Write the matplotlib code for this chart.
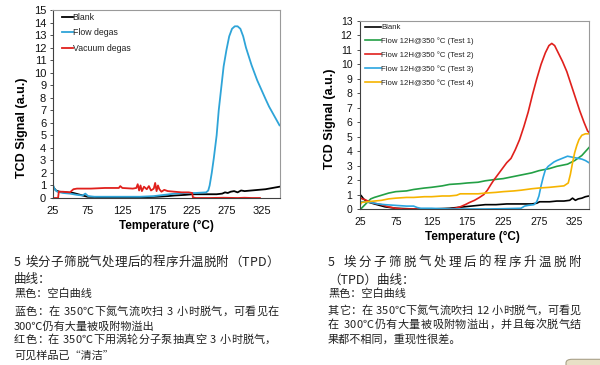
import matplotlib
matplotlib.use('Agg')
import matplotlib.pyplot as plt
from matplotlib.patches import FancyBboxPatch

plt.rcParams['font.family'] = ['Liberation Sans', 'DejaVu Sans']
CJK = ['Noto Sans CJK SC', 'DejaVu Sans']
TXT = '#222222'

# ---- left chart data ----
blank_l_x = [25, 27, 30, 35, 45, 55, 65, 75, 100, 125, 150, 175, 190, 200, 215, 225, 240, 250, 260,
             268, 272, 276, 280, 285, 290, 295, 300, 310, 320, 330, 340, 345, 350]
blank_l_y = [1.0, 0.8, 0.6, 0.5, 0.45, 0.4, 0.25, 0.1, 0.05, 0.05, 0.05, 0.1, 0.15, 0.2, 0.25, 0.3, 0.3,
             0.3, 0.3, 0.35, 0.45, 0.4, 0.5, 0.55, 0.45, 0.6, 0.55, 0.6, 0.65, 0.7, 0.8, 0.85, 0.9]

flow_x = [25, 26, 28, 32, 40, 50, 60, 68, 72, 76, 85, 100, 125, 150, 170, 185, 200, 215, 230, 245,
          248, 250, 253, 256, 260, 263, 267, 270, 274, 278, 282, 286, 290, 294, 298, 302, 306, 310,
          314, 318, 322, 326, 330, 335, 340, 345, 350]
flow_y = [1.4, 1.0, 0.7, 0.5, 0.4, 0.35, 0.25, 0.2, 0.35, 0.15, 0.1, 0.1, 0.1, 0.1, 0.15, 0.25, 0.35,
          0.4, 0.4, 0.45, 0.6, 1.0, 2.0, 3.2, 5.0, 7.0, 9.0, 10.5, 11.8, 12.9, 13.5, 13.7, 13.7, 13.5,
          12.9, 12.0, 11.3, 10.6, 10.0, 9.4, 8.9, 8.4, 7.9, 7.3, 6.8, 6.3, 5.8]

vac_x = [25, 33, 34, 40, 50, 55, 60, 80, 100, 120, 122, 125, 140, 145, 147, 149, 151, 153, 156, 160,
         163, 166, 170, 172, 174, 176, 178, 181, 185, 190, 200, 210, 220, 225, 226, 230, 250, 270,
         290, 300, 310, 322]
vac_y = [0.0, 0.0, 0.5, 0.5, 0.45, 0.7, 0.75, 0.75, 0.8, 0.8, 0.95, 0.8, 0.75, 0.8, 1.1, 0.6, 1.0,
         0.55, 0.9, 0.7, 0.95, 0.6, 0.75, 1.2, 0.55, 1.0, 0.7, 0.5, 0.65, 0.55, 0.5, 0.45, 0.45, 0.4,
         0.05, 0.0, 0.0, 0.02, 0.0, 0.02, 0.0, 0.0]

# ---- right chart data ----
blank_r_x = [25, 27, 30, 35, 45, 60, 75, 100, 125, 150, 160, 170, 180, 190, 200, 215, 230, 250, 265,
             272, 276, 280, 290, 300, 310, 318, 322, 326, 330, 335, 340, 345]
blank_r_y = [1.0, 0.9, 0.7, 0.5, 0.35, 0.15, 0.05, 0.0, 0.0, 0.05, 0.1, 0.15, 0.2, 0.25, 0.3, 0.3,
             0.35, 0.35, 0.35, 0.4, 0.5, 0.5, 0.5, 0.55, 0.55, 0.6, 0.75, 0.6, 0.7, 0.75, 0.85, 0.9]

t1_x = [27, 30, 35, 40, 45, 55, 65, 75, 90, 100, 115, 125, 140, 150, 165, 175, 190, 200, 215, 225,
        235, 250, 265, 275, 290, 300, 315, 325, 335, 345]
t1_y = [0.05, 0.2, 0.45, 0.7, 0.8, 0.95, 1.1, 1.2, 1.25, 1.35, 1.45, 1.5, 1.6, 1.7, 1.75, 1.8, 1.85,
        1.95, 2.05, 2.1, 2.2, 2.35, 2.5, 2.65, 2.8, 2.95, 3.1, 3.35, 3.7, 4.25]

t2_x = [25, 28, 32, 38, 45, 55, 65, 75, 85, 100, 150, 158, 165, 172, 178, 185, 192, 198, 203, 208,
        212, 218, 224, 230, 236, 242, 248, 254, 260, 266, 272, 278, 284, 289, 293, 297, 302, 308,
        314, 320, 326, 332, 338, 343, 345]
t2_y = [0.8, 0.7, 0.65, 0.5, 0.4, 0.3, 0.15, 0.05, 0.0, 0.0, 0.0, 0.05, 0.15, 0.3, 0.45, 0.6, 0.8,
        1.0, 1.3, 1.7, 2.0, 2.4, 2.8, 3.2, 3.5, 4.1, 4.8, 5.7, 6.7, 7.9, 9.0, 10.0, 10.8, 11.3, 11.45,
        11.3, 10.8, 10.2, 9.5, 8.6, 7.7, 6.8, 6.0, 5.4, 5.3]

t3_x = [25, 30, 40, 50, 60, 75, 90, 100, 105, 110, 125, 150, 175, 200, 225, 250, 255, 260, 268, 272,
        275, 278, 281, 284, 288, 292, 296, 300, 305, 310, 315, 320, 325, 330, 335, 340, 345]
t3_y = [0.5, 0.5, 0.45, 0.35, 0.3, 0.25, 0.2, 0.2, 0.1, 0.05, 0.05, 0.0, 0.0, 0.0, 0.02, 0.05, 0.2,
        0.25, 0.3, 0.5, 0.9, 1.6, 2.2, 2.7, 2.95, 3.1, 3.25, 3.35, 3.45, 3.55, 3.65, 3.6, 3.55, 3.5,
        3.45, 3.35, 3.2]

t4_x = [25, 27, 35, 45, 55, 65, 75, 90, 100, 115, 125, 140, 150, 160, 165, 175, 190, 200, 215, 225,
        240, 250, 265, 275, 290, 300, 310, 316, 319, 322, 325, 328, 331, 335, 340, 345]
t4_y = [0.25, 0.45, 0.5, 0.55, 0.6, 0.7, 0.75, 0.8, 0.8, 0.85, 0.85, 0.9, 0.9, 0.95, 1.05, 1.05, 1.05,
        1.1, 1.15, 1.2, 1.25, 1.3, 1.4, 1.45, 1.5, 1.55, 1.6, 1.8, 2.4, 3.2, 3.9, 4.4, 4.8, 5.1, 5.2, 5.2]

left_labels = ['Blank', 'Flow degas', 'Vacuum degas']
right_labels = ['Blank', 'Flow 12H@350 °C (Test 1)', 'Flow 12H@350 °C (Test 2)',
                'Flow 12H@350 °C (Test 3)', 'Flow 12H@350 °C (Test 4)']

left_caption = [
    '5 埃分子筛脱气处理后的程序升温脱附（TPD）',
    '曲线：',
    '黑色：空白曲线',
    '蓝色：在 350℃下氮气流吹扫 3 小时脱气，可看见在',
    '300℃仍有大量被吸附物溢出',
    '红色：在 350℃下用涡轮分子泵抽真空 3 小时脱气，',
    '可见样品已“清洁”',
]
right_caption = [
    '5 埃分子筛脱气处理后的程序升温脱附',
    '（TPD）曲线：',
    '黑色：空白曲线',
    '其它：在 350℃下氮气流吹扫 12 小时脱气，可看见',
    '在 300℃仍有大量被吸附物溢出，并且每次脱气结',
    '果都不相同，重现性很差。',
]

W, H = 600, 365
fig = plt.figure(figsize=(6, 3.65), dpi=100)


def style_axes(ax, xmax, ymax, tick_size):
    ax.set_xlim(25, xmax)
    ax.set_ylim(0, ymax)
    ax.set_xticks(range(25, 326, 50))
    ax.set_yticks(range(0, ymax + 1))
    for s in ['left', 'bottom']:
        ax.spines[s].set_color('#404040')
    for s in ['top', 'right']:
        ax.spines[s].set_color('#9a9a9a')
    for s in ax.spines.values():
        s.set_linewidth(0.8)
    ax.tick_params(axis='y', direction='out', length=2.5, width=0.6, pad=2, labelsize=tick_size,
                   colors='#333333', labelcolor='#111111')
    ax.tick_params(axis='x', length=0, pad=6, labelsize=tick_size, labelcolor='#111111')
    ax.set_xlabel('Temperature (°C)', fontsize=8.5, fontweight='bold')
    ax.set_ylabel('TCD Signal (a.u.)', fontsize=9, fontweight='bold')


# left chart
ax1 = fig.add_axes([52.5 / W, 1 - 198 / H, 227 / W, 188 / H])
ax1.plot(blank_l_x, blank_l_y, color='black', lw=1.3, label=left_labels[0])
ax1.plot(flow_x, flow_y, color='#2ea4d8', lw=1.3, label=left_labels[1])
ax1.plot(vac_x, vac_y, color='#e0201c', lw=1.3, label=left_labels[2])
style_axes(ax1, 350, 15, 8)
ax1.xaxis.set_label_coords(0.5, -0.117)
ax1.yaxis.set_label_coords(-0.108, 0.372)
ax1.legend(loc='upper left', bbox_to_anchor=(0.042, 0.985), frameon=False, fontsize=6.3,
           handlelength=1.2, handletextpad=0.0, labelspacing=0.75, borderpad=0, borderaxespad=0,
           labelcolor='#222222')

# right chart
ax2 = fig.add_axes([360 / W, 1 - 209 / H, 229 / W, 188 / H])
ax2.plot(blank_r_x, blank_r_y, color='black', lw=1.2, label=right_labels[0])
ax2.plot(t1_x, t1_y, color='#23a045', lw=1.2, label=right_labels[1])
ax2.plot(t2_x, t2_y, color='#e0201c', lw=1.2, label=right_labels[2])
ax2.plot(t3_x, t3_y, color='#2aa6e0', lw=1.2, label=right_labels[3])
ax2.plot(t4_x, t4_y, color='#f6b400', lw=1.2, label=right_labels[4])
style_axes(ax2, 345, 13, 7.5)
ax2.tick_params(axis='y', pad=3)
ax2.xaxis.set_label_coords(0.49, -0.117)
ax2.yaxis.set_label_coords(-0.105, 0.479)
ax2.legend(loc='upper left', bbox_to_anchor=(0.022, 0.985), frameon=False, fontsize=5.6,
           handlelength=2.1, handletextpad=0.0, labelspacing=0.8, borderpad=0, borderaxespad=0,
           labelcolor='#222222')

renderer = fig.canvas.get_renderer()


def put_line(text, x0, y, size, x1=None):
    """一行文字, x1 이 있으면 양쪽 정렬"""
    if x1 is None:
        fig.text(x0 / W, 1 - y / H, text, fontsize=size, family=CJK, va='center', ha='left', color=TXT)
        return
    space_w = 0.3 * size * 100 / 72
    items = []
    for ch in text:
        if ch == ' ':
            items.append((None, space_w))
        else:
            t = fig.text(0, 1 - y / H, ch, fontsize=size, family=CJK, va='center', ha='left', color=TXT)
            items.append((t, t.get_window_extent(renderer=renderer).width))
    total = sum(w for _, w in items)
    gap = (x1 - x0 - total) / (len(items) - 1)
    x = x0
    for t, w in items:
        if t is not None:
            t.set_x(x / W)
        x += w + gap


# left caption
put_line(left_caption[0], 14, 262, 9, 279)
put_line(left_caption[1], 14, 280, 9)
put_line(left_caption[2], 14, 294, 8)
put_line(left_caption[3], 14, 312, 8, 279)
put_line(left_caption[4], 14, 326, 8)
put_line(left_caption[5], 14, 340, 8, 276)
put_line(left_caption[6], 14, 356, 8)

# right caption
put_line(right_caption[0], 328, 262, 9, 581)
put_line(right_caption[1], 328, 280, 9)
put_line(right_caption[2], 328, 294, 8)
put_line(right_caption[3], 328, 311, 8, 581)
put_line(right_caption[4], 328, 325, 8, 581)
put_line(right_caption[5], 328, 339, 8)

# small box at the bottom right corner
fig.patches.append(FancyBboxPatch((566 / W, -0.02), 40 / W, 13 / H, boxstyle='round,pad=0,rounding_size=0.01',
                                  transform=fig.transFigure, facecolor='#e8e0c6', edgecolor='#a8a088',
                                  lw=0.8, figure=fig))

fig.savefig('out.png', dpi=100)
